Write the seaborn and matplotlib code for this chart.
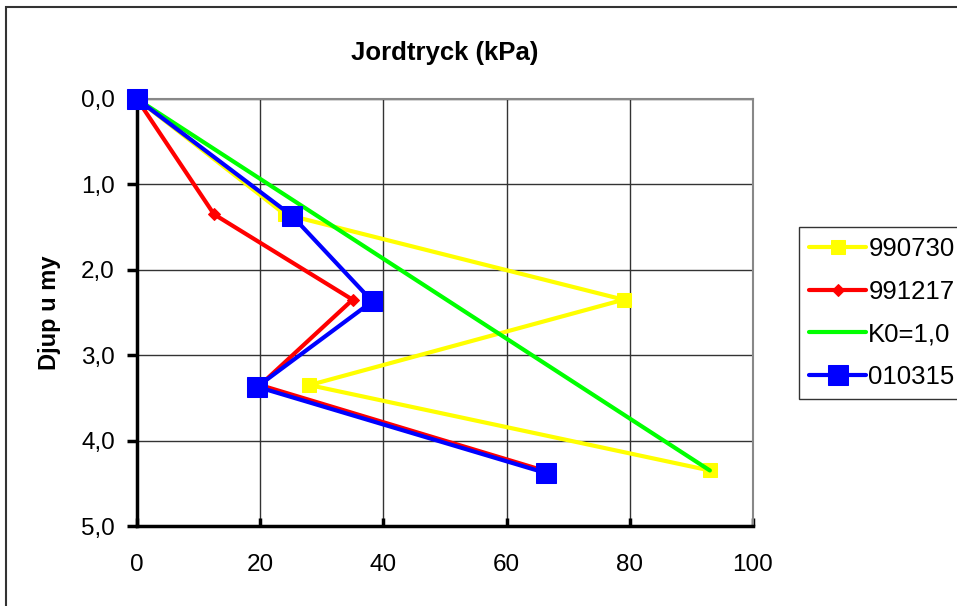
import numpy as np
import pandas as pd
import seaborn as sns
import matplotlib.pyplot as plt
from matplotlib.patches import Rectangle

# Data (depth in m, earth pressure in kPa)
depth_990730 = [0.0, 1.35, 2.35, 3.35, 4.35]
tryck_990730 = [0.0, 24.0, 79.0, 28.0, 93.0]

depth_991217 = [0.0, 1.35, 2.35, 3.35, 4.35]
tryck_991217 = [0.0, 12.5, 35.0, 20.0, 66.0]

depth_k0 = [0.0, 4.35]
tryck_k0 = [0.0, 93.0]

depth_010315 = [0.0, 1.37, 2.37, 3.37, 4.38]
tryck_010315 = [0.0, 25.2, 38.2, 19.5, 66.4]

x_ticks = [0, 20, 40, 60, 80, 100]
y_ticks = [0, 1, 2, 3, 4, 5]
y_ticklabels = ['0,0', '1,0', '2,0', '3,0', '4,0', '5,0']

sns.set_style('white')
plt.rcParams['font.family'] = ['Liberation Sans', 'DejaVu Sans']
plt.rcParams['text.color'] = 'black'
plt.rcParams['axes.labelcolor'] = 'black'
plt.rcParams['xtick.color'] = 'black'
plt.rcParams['ytick.color'] = 'black'

fig = plt.figure(figsize=(9.57, 6.06), dpi=100)
ax = fig.add_axes([137 / 957, 1 - 526 / 606, (753 - 137) / 957, (526 - 99) / 606])

series = [
    ('990730', tryck_990730, depth_990730, '#FFFF00', 's', 9.5),
    ('991217', tryck_991217, depth_991217, '#FF0000', 'D', 6.5),
    ('K0=1,0', tryck_k0, depth_k0, '#00FF00', None, 0),
    ('010315', tryck_010315, depth_010315, '#0000FF', 's', 14.5),
]

for i, (name, xs, ys, col, mk, ms) in enumerate(series):
    df = pd.DataFrame({'tryck': xs, 'djup': ys})
    sns.lineplot(data=df, x='tryck', y='djup', sort=False, estimator=None,
                 color=col, lw=3, marker=mk, markersize=ms,
                 markeredgecolor=col, markerfacecolor=col,
                 label=name, ax=ax, zorder=3 + i, clip_on=False)

ax.set_xlim(0, 100)
ax.set_ylim(5, 0)
ax.set_xticks(x_ticks)
ax.set_yticks(y_ticks)
ax.set_yticklabels(y_ticklabels)
ax.set_xlabel('')
ax.set_ylabel('Djup u my', fontsize=17, fontweight='bold', labelpad=14)

ax.grid(True, color='#333333', lw=1)
ax.set_axisbelow(True)

for s in ['left', 'bottom']:
    ax.spines[s].set_color('black')
    ax.spines[s].set_linewidth(2.5)
for s in ['top', 'right']:
    ax.spines[s].set_color('#888888')
    ax.spines[s].set_linewidth(1.5)

ax.tick_params(axis='y', direction='out', length=7, width=2.5, pad=9,
               labelsize=17.5, left=True)
ax.tick_params(axis='x', direction='in', length=6, width=2.5, pad=20,
               labelsize=17.5, bottom=True)

fig.text(445 / 957, 1 - 53 / 606, 'Jordtryck (kPa)', ha='center', va='center',
         fontsize=18.5, fontweight='bold')

leg = ax.legend(loc='upper left', bbox_to_anchor=(799 / 957, 1 - 227 / 606),
                bbox_transform=fig.transFigure, fontsize=18.5, frameon=True,
                fancybox=False, edgecolor='black', handlelength=2.2,
                handletextpad=0.1, labelspacing=0.72, borderpad=0.4,
                borderaxespad=0)
leg.get_frame().set_linewidth(1)

fig.patches.append(Rectangle((6 / 957, -0.1), 1.2, 1.1 - 7 / 606,
                             transform=fig.transFigure, fill=False,
                             edgecolor='#333333', lw=1.5))

fig.savefig('out.png', dpi=100)
